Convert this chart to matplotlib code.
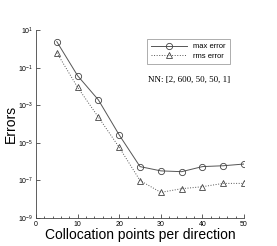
import matplotlib
matplotlib.use("Agg")
from matplotlib import pyplot as plt
from matplotlib.ticker import MultipleLocator, NullLocator
import numpy as np

# points per direction and the two error curves
n_pts = [5, 10, 15, 20, 25, 30, 35, 40, 45, 50]
max_err = [2.4, 3.7e-2, 1.9e-3, 2.6e-5, 5.4e-7, 3.2e-7, 2.9e-7, 5.4e-7, 6.0e-7, 7.4e-7]
rms_err = [6.2e-1, 8.9e-3, 2.3e-4, 5.7e-6, 9.8e-8, 2.3e-8, 3.6e-8, 4.6e-8, 6.9e-8, 6.9e-8]
y_ticks = [1e-9, 1e-7, 1e-5, 1e-3, 1e-1, 1e1]

plt.rcParams['font.family'] = ['Liberation Sans', 'DejaVu Sans']

fig = plt.figure(figsize=(2.77, 2.46), dpi=100)
ax = fig.add_axes([0.130, 0.114, 0.751, 0.764])

ax.plot(n_pts, max_err, '-', color='#555555', lw=0.7, marker='o', ms=4.5,
		mfc='none', mec='#444444', mew=0.6, label='max error')
ax.plot(n_pts, rms_err, ':', color='#555555', lw=0.7, marker='^', ms=4,
		mfc='none', mec='#444444', mew=0.6, label='rms error')

ax.set_yscale('log')
ax.set_xlim(0, 50)
ax.set_ylim(1e-9, 1e1)
ax.set_yticks(y_ticks)
ax.yaxis.set_minor_locator(NullLocator())
ax.xaxis.set_major_locator(MultipleLocator(10))
ax.xaxis.set_minor_locator(MultipleLocator(2))

ax.spines['top'].set_visible(False)
ax.spines['right'].set_visible(False)
for s in ['left', 'bottom']:
	ax.spines[s].set_linewidth(0.6)
	ax.spines[s].set_color('#444444')
ax.tick_params(which='both', direction='in', labelsize=5, width=0.6, color='#444444', pad=2)
ax.tick_params(which='major', length=3)
ax.tick_params(which='minor', length=1.5)

ax.set_xlabel('Collocation points per direction', fontsize=10, labelpad=0)
ax.set_ylabel('Errors', fontsize=10, labelpad=0)

leg = ax.legend(loc='upper right', bbox_to_anchor=(0.95, 0.975), fontsize=5.5,
				frameon=True, fancybox=False, edgecolor='#888888',
				handlelength=4.6, borderpad=0.6, labelspacing=0.25)
leg.get_frame().set_linewidth(0.6)

ax.text(0.935, 0.734, 'NN: [2, 600, 50, 50, 1]', transform=ax.transAxes,
		ha='right', va='center', fontsize=6.5, family='Liberation Serif')

fig.savefig('out.png', dpi=100)
